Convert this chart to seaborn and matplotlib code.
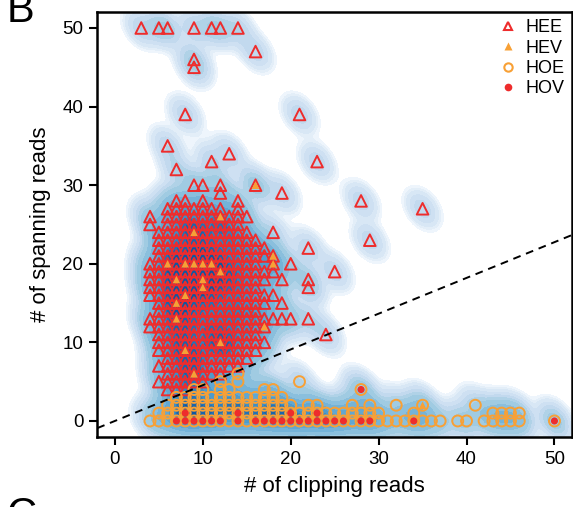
import numpy as np
import pandas as pd
import seaborn as sns
import matplotlib.pyplot as plt
from matplotlib.lines import Line2D

sns.set_style("ticks")
plt.rcParams['font.family'] = ['Liberation Sans', 'DejaVu Sans']
plt.rcParams.update({"text.color": "black", "axes.labelcolor": "black",
                     "xtick.color": "black", "ytick.color": "black",
                     "axes.edgecolor": "black"})

RED = "#EE2C2C"
ORANGE = "#F8A035"

# HEE (open red triangles): clipping reads -> list of spanning reads
hee_cols = {
    3: [50],
    4: [26, 25, 20, 19, 18, 17, 16, 13, 12],
    5: [50, 24, 23, 22, 21, 20, 19, 18, 17, 16, 15, 14, 13, 12, 11, 10, 9, 7, 5],
    6: [50, 35, 27, 26, 25, 24, 23, 22, 21, 20, 19, 18, 17, 16, 15, 14, 13, 12, 11, 10, 9, 8, 7, 6, 5, 4],
    7: [32, 28, 27, 26, 25, 24, 23, 22, 21, 20, 19, 18, 17, 16, 15, 14, 13, 12, 11, 10, 9, 8, 7, 6, 5, 4],
    8: [39, 28, 27, 26, 25, 24, 23, 22, 21, 20, 19, 18, 17, 16, 15, 14, 13, 12, 11, 10, 9, 8, 7, 6, 5, 4],
    9: [50, 46, 45, 30, 27, 26, 25, 24, 23, 22, 21, 20, 19, 18, 17, 16, 15, 14, 13, 12, 11, 10, 9, 8, 7, 6, 5],
    10: [30, 28, 27, 26, 25, 24, 23, 22, 21, 20, 19, 18, 17, 16, 15, 14, 13, 12, 11, 10, 9, 8, 7, 6, 5],
    11: [50, 33, 27, 26, 25, 24, 23, 22, 21, 20, 19, 18, 17, 16, 15, 14, 13, 12, 11, 10, 9, 8, 7, 6],
    12: [50, 30, 29, 27, 26, 25, 24, 23, 22, 21, 20, 19, 18, 17, 16, 15, 14, 13, 12, 11, 10, 9, 8, 7, 6],
    13: [34, 26, 25, 24, 23, 22, 21, 20, 19, 18, 17, 16, 15, 14, 13, 12, 11, 10, 9, 8, 7],
    14: [50, 28, 27, 26, 25, 24, 23, 22, 21, 20, 19, 18, 17, 16, 15, 14, 13, 12, 11, 10, 9, 8, 7],
    15: [26, 24, 23, 22, 21, 20, 19, 18, 17, 16, 15, 14, 13, 12, 11, 10, 9, 8],
    16: [47, 30, 23, 22, 21, 20, 19, 18, 17, 16, 15, 14, 13, 12, 11, 10, 9],
    17: [22, 21, 19, 18, 16, 15, 13, 12, 10],
    18: [24, 21, 20, 19, 16, 13],
    19: [29, 18, 15, 13],
    20: [20, 13],
    21: [39],
    22: [22, 18, 17, 13],
    23: [33],
    24: [11],
    25: [19],
    28: [28],
    29: [23],
    35: [27],
}

# HEV (filled orange triangles)
hev_x = [6, 8, 9, 10, 11, 12, 7, 10, 10, 8, 7, 7, 12, 8, 9, 9, 12, 16, 18, 18, 17, 35]
hev_y = [20, 20, 20, 20, 20, 19, 18, 18, 17, 16, 15, 13, 10, 9, 6, 24, 26, 30, 21, 20, 12, 2]

# HOE (open orange circles): spanning reads -> list of clipping reads
hoe_rows = {
    0: [4, 5, 6, 7, 8, 9, 10, 11, 12, 13, 14, 15, 16, 17, 18, 19, 20, 21, 22, 23, 24, 25, 26, 27,
        28, 29, 30, 31, 32, 33, 34, 35, 36, 37, 39, 40, 42, 43, 44, 45, 46, 50],
    1: [5, 6, 7, 8, 9, 10, 11, 12, 13, 14, 15, 16, 17, 18, 19, 20, 21, 22, 23, 24, 25, 26, 27, 28,
        29, 30, 34, 43, 44, 45, 46],
    2: [6, 7, 8, 9, 10, 11, 12, 13, 14, 15, 16, 17, 18, 19, 20, 22, 23, 27, 29, 32, 35, 41],
    3: [7, 8, 9, 10, 11, 12, 13, 14, 15, 16, 17, 18, 19],
    4: [9, 10, 12, 13, 17, 18, 28],
    5: [12, 14, 21],
    6: [14],
}

# HOV (filled red dots)
hov_x = [7, 8, 9, 10, 11, 12, 14, 16, 17, 18, 19, 20, 21, 22, 23, 24, 25, 26, 28, 29, 34, 50,
         8, 14, 20, 23, 28]
hov_y = [0, 0, 0, 0, 0, 0, 0, 0, 0, 0, 0, 0, 0, 0, 0, 0, 0, 0, 0, 0, 0, 0,
         1, 1, 1, 1, 4]

hee = pd.DataFrame([(x, y) for x, ys in hee_cols.items() for y in ys], columns=["clip", "span"])
hoe = pd.DataFrame([(x, y) for y, xs in hoe_rows.items() for x in xs], columns=["clip", "span"])
hev = pd.DataFrame({"clip": hev_x, "span": hev_y})
hov = pd.DataFrame({"clip": hov_x, "span": hov_y})
all_pts = pd.concat([hee, hev, hoe, hov], ignore_index=True).astype(float)

fig = plt.figure(figsize=(5.73, 5.07), dpi=100)
ax = fig.add_axes([0.1698, 0.1387, 0.8285, 0.8371])

# smoothed density background
band_levels = [0.003, 0.006, 0.01, 0.02, 0.04, 0.07, 0.1, 0.15, 0.22, 0.3,
               0.4, 0.5, 0.6, 0.7, 0.8, 0.9, 1.0]
cmap = plt.get_cmap("Blues")
band_colors = [cmap(v) for v in np.linspace(0.05, 0.85, len(band_levels) - 1)]
sns.kdeplot(data=all_pts, x="clip", y="span", fill=True, levels=band_levels,
            color="#4292c6", colors=band_colors, bw_adjust=0.36, gridsize=250,
            ax=ax, zorder=0)

sns.scatterplot(data=hee, x="clip", y="span", marker="^", s=70, facecolor="none",
                edgecolor=RED, linewidth=1.4, ax=ax, zorder=3)
sns.scatterplot(data=hev, x="clip", y="span", marker="^", s=30, color=ORANGE,
                edgecolor="none", ax=ax, zorder=4)
sns.scatterplot(data=hoe, x="clip", y="span", marker="o", s=62, facecolor="none",
                edgecolor=ORANGE, linewidth=1.4, ax=ax, zorder=3)
sns.scatterplot(data=hov, x="clip", y="span", marker="o", s=26, color=RED,
                edgecolor="none", ax=ax, zorder=5)

ax.axline((0, 0), slope=0.455, color="black", ls=(0, (4, 3)), lw=1.4, zorder=6)

ax.set_xlim(-2, 52)
ax.set_ylim(-2, 52)
ax.set_xticks([0, 10, 20, 30, 40, 50])
ax.set_yticks([0, 10, 20, 30, 40, 50])
ax.tick_params(direction="out", length=6, width=1.5, labelsize=13.5, pad=4)
for sp in ax.spines.values():
    sp.set_linewidth(1.8)
    sp.set_visible(True)
ax.set_xlabel("# of clipping reads", fontsize=16, labelpad=6)
ax.set_ylabel("# of spanning reads", fontsize=16, labelpad=8)

handles = [
    Line2D([], [], ls="none", marker="^", ms=6, mfc="none", mec=RED, mew=1.5),
    Line2D([], [], ls="none", marker="^", ms=5.5, mfc=ORANGE, mec="none"),
    Line2D([], [], ls="none", marker="o", ms=6, mfc="none", mec=ORANGE, mew=1.5),
    Line2D([], [], ls="none", marker="o", ms=5.5, mfc=RED, mec="none"),
]
ax.legend(handles, ["HEE", "HEV", "HOE", "HOV"], loc="upper right", frameon=False,
          fontsize=13, labelspacing=0.18, handlelength=1.0, handletextpad=0.5,
          borderaxespad=0.2, borderpad=0.2)

fig.text(0.012, 1 - 22 / 507, "B", fontsize=30, va="baseline")
fig.text(0.012, -20 / 507, "C", fontsize=30, va="baseline")

fig.savefig("out.png", dpi=100)
